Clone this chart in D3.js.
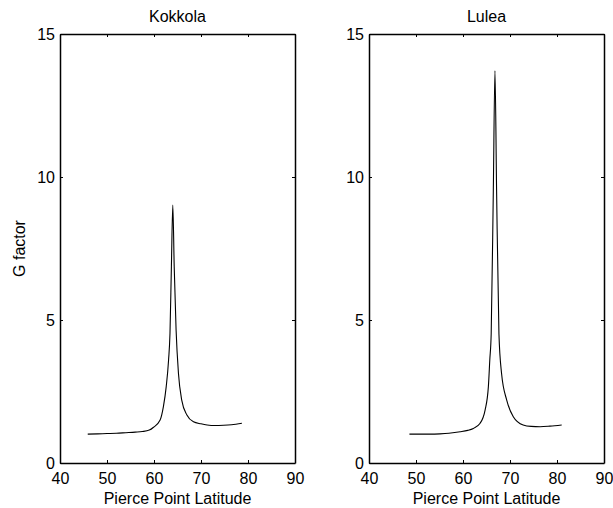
<!DOCTYPE html>
<meta charset="utf-8">
<script src="https://d3js.org/d3.v7.min.js"></script>
<style>
  body { margin: 0; background: #fff; }
  text { font-family: "Liberation Sans", Arial, sans-serif; }
</style>
<div id="my_dataviz"></div>
<script>

// values
var kokkolaLat = [45.9, 48, 50, 52, 54, 56, 57.5, 59.0, 59.9, 61.3, 62.0, 62.6, 63.1, 63.4, 63.7, 64.0, 64.3, 64.7, 65.2, 65.9, 67.0, 68.4, 70, 71.3, 73, 74.8, 76.5, 78.7];
var kokkolaG   = [1.01, 1.02, 1.03, 1.04, 1.06, 1.08, 1.10, 1.15, 1.25, 1.50, 1.97, 2.67, 3.60, 4.53, 6.86, 9.02, 6.86, 4.65, 3.14, 2.20, 1.68, 1.44, 1.37, 1.33, 1.31, 1.32, 1.34, 1.39];

var luleaLat = [48.6, 51, 53, 55.1, 57, 59.4, 61, 62.2, 63.6, 64.7, 65.4, 65.7, 66.0, 66.45, 66.8, 67.15, 67.65, 68.2, 69.3, 70.7, 72.8, 74.5, 76.4, 78.5, 81.0];
var luleaG   = [1.01, 1.01, 1.01, 1.02, 1.04, 1.09, 1.14, 1.21, 1.38, 1.85, 2.67, 3.60, 4.53, 9.5, 13.71, 9.5, 4.5, 3.14, 2.20, 1.62, 1.33, 1.28, 1.27, 1.29, 1.33];

var titles = ["Kokkola", "Lulea"];
var xTicks = [40, 50, 60, 70, 80, 90];
var yTicks = [0, 5, 10, 15];

var panels = [
  { title: titles[0], lat: kokkolaLat, g: kokkolaG, left: 60 },
  { title: titles[1], lat: luleaLat, g: luleaG, left: 369 }
];

var plotW = 235, plotTop = 34, plotH = 429;

var svg = d3.select("#my_dataviz")
  .append("svg")
    .attr("width", 613)
    .attr("height", 508);

var y = d3.scaleLinear().domain([0, 15]).range([plotH, 0]);

panels.forEach(function(p, i) {
  var g = svg.append("g")
    .attr("transform", "translate(" + p.left + "," + plotTop + ")");

  var x = d3.scaleLinear().domain([40, 90]).range([0, plotW]);

  // box with inward ticks on all sides
  g.append("g")
    .attr("transform", "translate(0," + plotH + ")")
    .call(d3.axisBottom(x).tickValues(xTicks).tickSizeInner(-3).tickSizeOuter(0).tickPadding(10));
  g.append("g")
    .call(d3.axisTop(x).tickValues(xTicks).tickSizeInner(-3).tickSizeOuter(0).tickFormat(""));
  g.append("g")
    .call(d3.axisLeft(y).tickValues(yTicks).tickSizeInner(-3).tickSizeOuter(0).tickPadding(5));
  g.append("g")
    .attr("transform", "translate(" + plotW + ",0)")
    .call(d3.axisRight(y).tickValues(yTicks).tickSizeInner(-3).tickSizeOuter(0).tickFormat(""));

  g.selectAll(".domain").attr("stroke", "#000").attr("stroke-width", 1.5);
  g.selectAll(".tick line").attr("stroke", "#000");
  g.selectAll(".tick text").style("font-size", "16px").attr("fill", "#000");

  var pts = p.lat.map(function(d, j) { return [d, p.g[j]]; });
  g.append("path")
    .datum(pts)
    .attr("fill", "none")
    .attr("stroke", "#000")
    .attr("stroke-width", 1.1)
    .attr("d", d3.line()
      .curve(d3.curveMonotoneX)
      .x(function(d) { return x(d[0]); })
      .y(function(d) { return y(d[1]); }));

  g.append("text")
    .attr("x", plotW / 2).attr("y", -12)
    .attr("text-anchor", "middle")
    .style("font-size", "16px")
    .text(p.title);

  g.append("text")
    .attr("x", plotW / 2).attr("y", plotH + 41)
    .attr("text-anchor", "middle")
    .style("font-size", "16px")
    .text("Pierce Point Latitude");

  if (i == 0) {
    g.append("text")
      .attr("transform", "translate(-35," + (plotH / 2) + ") rotate(-90)")
      .attr("text-anchor", "middle")
      .style("font-size", "16px")
      .text("G factor");
  }
});

</script>
